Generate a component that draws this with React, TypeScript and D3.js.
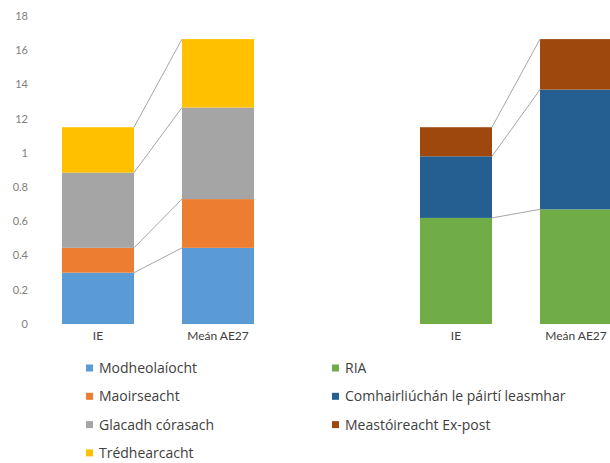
import React from "react";
import * as d3 from "d3";

const categories = ["IE", "Meán AE27"];
const leftSeries = ["Modheolaíocht", "Maoirseacht", "Glacadh córasach", "Trédhearcacht"];
const leftColors = ["#5b9bd5", "#ed7d31", "#a5a5a5", "#ffc000"];
const leftIE = [0.3, 0.145, 0.44, 0.265];
const leftMean = [0.445, 0.285, 0.535, 0.4];

const rightSeries = ["RIA", "Comhairliúchán le páirtí leasmhar", "Meastóireacht Ex-post"];
const rightColors = ["#70ad47", "#255e91", "#9e480e"];
const rightIE = [0.62, 0.36, 0.17];
const rightMean = [0.67, 0.7, 0.295];

const tickValues = [0, 0.2, 0.4, 0.6, 0.8, 1, 1.2, 1.4, 1.6, 1.8];
const tickLabels = ["0", "0.2", "0.4", "0.6", "0.8", "1", "12", "14", "16", "18"];

const W = 610;
const H = 463;

type Seg = { key: string; y0: number; y1: number; color: string };

function stackSegs(vals: number[], names: string[], colors: string[]): Seg[] {
  let acc = 0;
  return vals.map((v, i) => {
    const s = { key: names[i], y0: acc, y1: acc + v, color: colors[i] };
    acc += v;
    return s;
  });
}

export default function App() {
  const y = d3.scaleLinear().domain([0, 1.8]).range([324, 16]);
  const xLeft = d3.scaleBand().domain(categories).range([38, 278]).paddingInner(0.4).paddingOuter(0.2);
  const xRight = d3.scaleBand().domain(categories).range([396, 636]).paddingInner(0.4).paddingOuter(0.2);

  const groups = [
    { x: xLeft, data: [stackSegs(leftIE, leftSeries, leftColors), stackSegs(leftMean, leftSeries, leftColors)] },
    { x: xRight, data: [stackSegs(rightIE, rightSeries, rightColors), stackSegs(rightMean, rightSeries, rightColors)] },
  ];

  const font = "Lato, 'Open Sans', sans-serif";
  const legendFont = "'Open Sans', sans-serif";

  return (
    <svg width={W} height={H} style={{ position: "absolute", left: 0, top: 0, display: "block" }}>
      <rect width={W} height={H} fill="#ffffff" />
      {tickValues.map((t, i) => (
        <text key={t} x={28} y={y(t)} dy="0.35em" textAnchor="end" fontSize={11} fill="#808080" fontFamily={font}>
          {tickLabels[i]}
        </text>
      ))}
      {groups.map((g, gi) => {
        const bw = g.x.bandwidth();
        const [a, b] = g.data;
        const xa = g.x(categories[0])!;
        const xb = g.x(categories[1])!;
        return (
          <g key={gi}>
            {g.data.map((segs, ci) => {
              const x0 = g.x(categories[ci])!;
              return segs.map((s) => (
                <rect key={s.key + ci} x={x0} y={y(s.y1)} width={bw} height={y(s.y0) - y(s.y1)} fill={s.color} />
              ));
            })}
            {a.map((s, si) => (
              <line key={"c" + si} x1={xa + bw} y1={y(s.y1)} x2={xb} y2={y(b[si].y1)} stroke="#a6a6a6" strokeWidth={1} />
            ))}
            {categories.map((c) => (
              <text key={c} x={g.x(c)! + bw / 2} y={340} textAnchor="middle" fontSize={12} fill="#404040" fontFamily={font}>
                {c}
              </text>
            ))}
          </g>
        );
      })}
      {leftSeries.map((s, i) => (
        <g key={s} transform={`translate(86, ${368 + i * 28.3})`}>
          <rect x={0} y={-3.5} width={7} height={7} fill={leftColors[i]} />
          <text x={13} y={0} dy="0.35em" fontSize={14} fill="#404040" fontFamily={legendFont}>{s}</text>
        </g>
      ))}
      {rightSeries.map((s, i) => (
        <g key={s} transform={`translate(332, ${368 + i * 28.3})`}>
          <rect x={0} y={-3.5} width={7} height={7} fill={rightColors[i]} />
          <text x={13} y={0} dy="0.35em" fontSize={14} fill="#404040" fontFamily={legendFont}>{s}</text>
        </g>
      ))}
    </svg>
  );
}
